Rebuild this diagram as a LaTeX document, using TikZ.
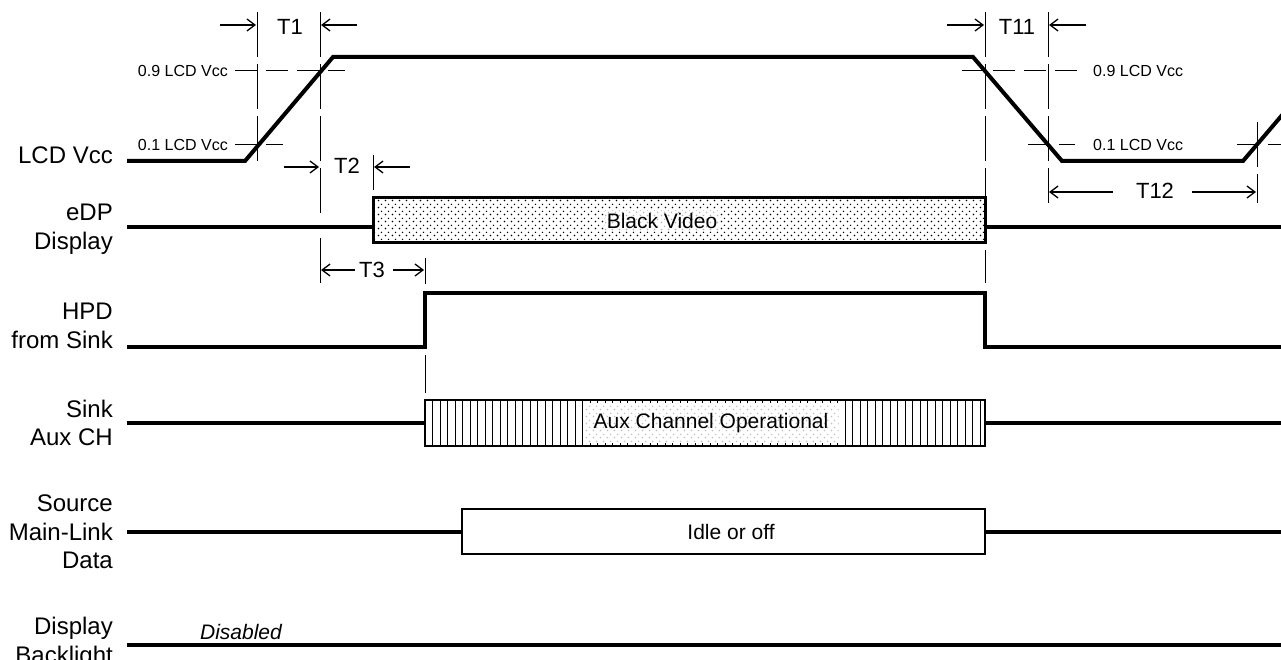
\documentclass[tikz,border=0pt]{standalone}
\usepackage{fontspec}
\setmainfont{Liberation Sans}
\usepackage{tikz}
\usetikzlibrary{arrows.meta, patterns}

\pgfdeclarepatternformonly{sparsedots}{\pgfpoint{0pt}{0pt}}{\pgfpoint{6.5pt}{6.5pt}}{\pgfpoint{6.5pt}{6.5pt}}{%
  \pgfpathcircle{\pgfpoint{1.6pt}{1.6pt}}{0.85pt}%
  \pgfpathcircle{\pgfpoint{4.85pt}{4.85pt}}{0.85pt}%
  \pgfusepath{fill}}

\begin{document}
\begin{tikzpicture}[x=1pt, y=-1pt,
  sig/.style={line width=4pt, line join=miter},
  guide/.style={line width=1pt, dash pattern=on 45pt off 7pt},
  lvl/.style={line width=1pt, dash pattern=on 22pt off 9pt},
  dim/.style={line width=1.3pt, -{Straight Barb[length=8pt,width=12pt]}},
  lbl/.style={font=\fontsize{24}{28.5}\selectfont, align=right, anchor=east, inner sep=0pt},
  small/.style={font=\fontsize{16}{18}\selectfont, inner sep=0pt},
  tlbl/.style={font=\fontsize{22}{24}\selectfont, inner sep=0pt},
  boxtxt/.style={font=\fontsize{21}{24}\selectfont, inner sep=2pt}]

  \useasboundingbox (0,0) rectangle (1281,660);

  % signal names
  \node[lbl] (lcd) at (113,155) {LCD Vcc};
  \node[lbl] (edp) at (113,229) {eDP\\Display};
  \node[lbl] (hpd) at (113,326) {HPD\\from Sink};
  \node[lbl] (aux) at (113,423) {Sink\\Aux CH};
  \node[lbl] (src) at (113,532) {Source\\Main-Link\\Data};
  \node[lbl] (blt) at (113,643) {Display\\Backlight};

  % LCD Vcc
  \draw[sig] (127,161) -- (245,161) -- (333,57) -- (973,57) -- (1062,161) -- (1243,161) -- (1283,114);

  % eDP display
  \draw[sig] (127,227) -- (373,227);
  \draw[line width=3pt, pattern=sparsedots] (373,198) rectangle (985,243);
  \draw[sig] (985,227) -- (1281,227);
  \node[boxtxt, preaction={fill=white}, pattern=sparsedots, pattern color=black!30] (blk) at (662,221) {Black Video};

  % HPD
  \draw[sig] (127,347) -- (425,347) -- (425,293) -- (985,293) -- (985,347) -- (1281,347);

  % aux channel
  \draw[sig] (127,423) -- (425,423);
  \foreach \x in {432.5,440,...,980}
    \draw[line width=1pt] (\x,400) -- (\x,446);
  \draw[line width=2.5pt] (425,400) rectangle (985,446);
  \draw[sig] (985,423) -- (1281,423);
  \node[boxtxt, preaction={fill=white}, pattern=sparsedots, pattern color=black!25,
        minimum width=255pt, minimum height=40pt] (auxop) at (711,423) {Aux Channel Operational};

  % main link
  \draw[sig] (127,532) -- (462,532);
  \draw[line width=2pt] (462,509) rectangle (985,554);
  \draw[sig] (985,532) -- (1281,532);
  \node[boxtxt] (idle) at (731,532) {Idle or off};

  % backlight
  \draw[sig] (127,645) -- (1281,645);
  \node[boxtxt, font=\fontsize{21}{24}\selectfont\itshape] (dis) at (241,632) {Disabled};

  % timing guides
  \draw[guide] (257,12) -- (257,167);
  \draw[guide] (320,12) -- (320,217);
  \draw[guide] (320,238) -- (320,284);
  \draw[guide] (373,155) -- (373,190);
  \draw[guide] (425,258) -- (425,284);
  \draw[guide] (425,355) -- (425,393);
  \draw[guide] (985,12) -- (985,196);
  \draw[guide] (985,250) -- (985,283);
  \draw[guide] (1048,12) -- (1048,203);
  \draw[guide] (1257,122) -- (1257,203);

  % voltage levels
  \draw[lvl] (235,71) -- (345,71);
  \draw[lvl] (235,145) -- (283,145);
  \draw[lvl] (962,71) -- (1085,71);
  \draw[lvl] (1028,145) -- (1075,145);
  \draw[lvl] (1237,145) -- (1281,145);
  \node[small, anchor=east] (l09) at (228,71) {0.9 LCD Vcc};
  \node[small, anchor=east] (l01) at (228,145) {0.1 LCD Vcc};
  \node[small, anchor=west] (r09) at (1093,71) {0.9 LCD Vcc};
  \node[small, anchor=west] (r01) at (1093,145) {0.1 LCD Vcc};

  % T1
  \node[tlbl] (t1) at (290,27) {T1};
  \draw[dim] (220,25) -- (256,25);
  \draw[dim] (357,25) -- (321,25);
  % T2
  \node[tlbl] (t2) at (347,166) {T2};
  \draw[dim] (284,167) -- (319,167);
  \draw[dim] (410,167) -- (374,167);
  % T3
  \node[tlbl] (t3) at (372,270) {T3};
  \draw[dim] (355,270) -- (321,270);
  \draw[dim] (393,270) -- (424,270);
  % T11
  \node[tlbl] (t11) at (1017,27) {T11};
  \draw[dim] (947,25) -- (984,25);
  \draw[dim] (1086,25) -- (1049,25);
  % T12
  \node[tlbl] (t12) at (1155,191) {T12};
  \draw[dim] (1113,192) -- (1049,192);
  \draw[dim] (1192,192) -- (1256,192);
\end{tikzpicture}
\end{document}
